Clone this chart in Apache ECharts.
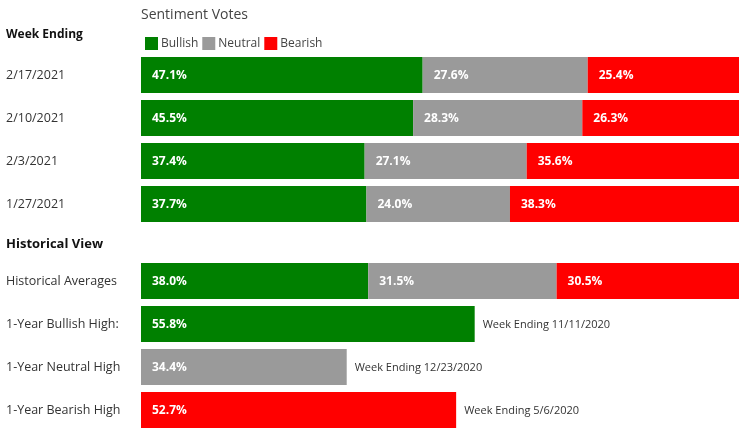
<!DOCTYPE html>
<html><head><meta charset="utf-8">
<script src="https://cdn.jsdelivr.net/npm/echarts@6/dist/echarts.min.js"></script>
<style>html,body{margin:0;padding:0;background:#fff}#c{width:750px;height:432px}</style>
</head><body><div id="c"></div>
<script>
const weekCategories = ['2/17/2021', '2/10/2021', '2/3/2021', '1/27/2021'];
const weekBullish = [47.1, 45.5, 37.4, 37.7];
const weekNeutral = [27.6, 28.3, 27.1, 24.0];
const weekBearish = [25.4, 26.3, 35.6, 38.3];

const histCategories = ['Historical Averages', '1-Year Bullish High:', '1-Year Neutral High', '1-Year Bearish High'];
const histBullish = [38.0, 55.8, '-', '-'];
const histNeutral = [31.5, '-', 34.4, '-'];
const histBearish = [30.5, '-', '-', 52.7];
const highValues = ['-', 55.8, 34.4, 52.7];
const highWeeks = ['', 'Week Ending 11/11/2020', 'Week Ending 12/23/2020', 'Week Ending 5/6/2020'];

const FONT = 'Open Sans';
const GREEN = '#008000', GRAY = '#9a9a9a', RED = '#ff0000';

const chart = echarts.init(document.getElementById('c'));
const pctLabel = {
  show: true, position: 'insideLeft', distance: 11, offset: [0, 1],
  color: '#fff', fontWeight: 'bold', fontSize: 12, fontFamily: FONT,
  formatter: p => (typeof p.value === 'number') ? p.value.toFixed(1) + '%' : ''
};
function bar(name, data, color, gi) {
  return {
    name, type: 'bar', stack: 's' + gi, data, xAxisIndex: gi, yAxisIndex: gi,
    barWidth: 36, itemStyle: { color }, label: pctLabel, silent: true,
    emphasis: { disabled: true }
  };
}
const yAxisCommon = {
  type: 'category', inverse: true,
  axisLine: { show: false }, axisTick: { show: false },
  axisLabel: { align: 'left', margin: 135, color: '#333', fontSize: 12.5, fontFamily: FONT, padding: [2, 0, 0, 0] }
};
chart.setOption({
  animation: false,
  textStyle: { fontFamily: FONT },
  graphic: [
    { type: 'text', left: 141, top: 8, style: { text: 'Sentiment Votes', fontSize: 14, fill: '#444', fontFamily: FONT } },
    { type: 'text', left: 6, top: 29, style: { text: 'Week Ending', fontSize: 12, fontWeight: 'bold', fill: '#111', fontFamily: FONT } },
    { type: 'text', left: 6, top: 238, style: { text: 'Historical View', fontSize: 13, fontWeight: 'bold', fill: '#111', fontFamily: FONT } }
  ],
  legend: {
    left: 140, top: 32, icon: 'rect', itemWidth: 13, itemHeight: 13, itemGap: 4,
    selectedMode: false,
    textStyle: { fontSize: 12, color: '#444', fontFamily: FONT, padding: [0, 0, 0, -2] },
    data: ['Bullish', 'Neutral', 'Bearish']
  },
  grid: [
    { left: 141, right: 11, top: 53.5, height: 172 },
    { left: 141, right: 11, top: 259.5, height: 172 }
  ],
  xAxis: [
    { type: 'value', gridIndex: 0, min: 0, max: 100, show: false },
    { type: 'value', gridIndex: 1, min: 0, max: 100, show: false }
  ],
  yAxis: [
    Object.assign({ gridIndex: 0, data: weekCategories }, yAxisCommon),
    Object.assign({ gridIndex: 1, data: histCategories }, yAxisCommon)
  ],
  series: [
    bar('Bullish', weekBullish, GREEN, 0),
    bar('Neutral', weekNeutral, GRAY, 0),
    bar('Bearish', weekBearish, RED, 0),
    bar('Bullish', histBullish, GREEN, 1),
    bar('Neutral', histNeutral, GRAY, 1),
    bar('Bearish', histBearish, RED, 1),
    {
      name: 'high', type: 'bar', stack: 'hi', data: highValues, xAxisIndex: 1, yAxisIndex: 1,
      barWidth: 36, barGap: '-100%', itemStyle: { color: 'rgba(0,0,0,0)' }, silent: true,
      label: {
        show: true, position: 'right', distance: 8, offset: [0, 1], color: '#333', fontSize: 11, fontFamily: FONT,
        formatter: p => highWeeks[p.dataIndex]
      }
    }
  ]
});
</script></body></html>
